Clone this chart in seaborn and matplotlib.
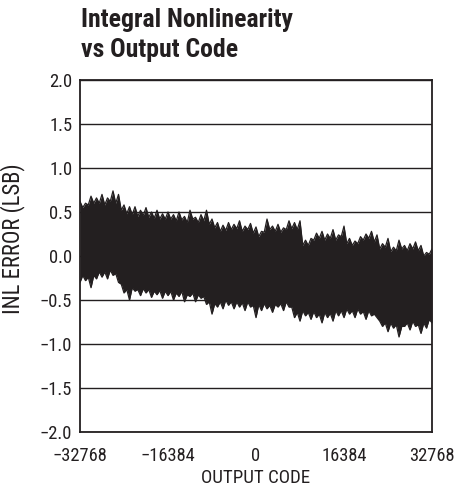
import numpy as np
import pandas as pd
import matplotlib
matplotlib.use("Agg")
import matplotlib.pyplot as plt
from matplotlib import font_manager
import seaborn as sns

# Output code axis, sampled every 1024 codes
codes = list(range(-32768, 32769, 1024))
# Midpoints between those samples
mid_codes = list(range(-32768 + 512, 32768, 1024))

# Peak (upper) and trough (lower) INL error at each 1024-code sample, in LSB
inl_upper = [0.62, 0.60, 0.68, 0.66, 0.70, 0.66, 0.74, 0.70, 0.58, 0.56,
             0.56, 0.52, 0.55, 0.50, 0.52, 0.48, 0.50, 0.47, 0.50, 0.45,
             0.52, 0.44, 0.47, 0.52, 0.42, 0.38, 0.35, 0.38, 0.36, 0.40,
             0.34, 0.37, 0.33, 0.28, 0.42, 0.34, 0.36, 0.32, 0.40, 0.38,
             0.40, 0.18, 0.20, 0.26, 0.28, 0.25, 0.30, 0.24, 0.34, 0.20,
             0.17, 0.22, 0.25, 0.28, 0.24, 0.14, 0.20, 0.10, 0.18, 0.12,
             0.14, 0.16, 0.12, 0.04, 0.08]
inl_lower = [-0.30, -0.28, -0.36, -0.26, -0.24, -0.26, -0.22, -0.30, -0.42, -0.50,
             -0.40, -0.45, -0.42, -0.47, -0.44, -0.48, -0.45, -0.50, -0.46, -0.52,
             -0.46, -0.52, -0.48, -0.55, -0.66, -0.58, -0.60, -0.56, -0.60, -0.58,
             -0.62, -0.58, -0.70, -0.62, -0.60, -0.64, -0.58, -0.62, -0.58, -0.70,
             -0.74, -0.68, -0.72, -0.70, -0.76, -0.70, -0.74, -0.68, -0.70, -0.66,
             -0.70, -0.66, -0.72, -0.68, -0.70, -0.80, -0.86, -0.82, -0.92, -0.80,
             -0.84, -0.80, -0.88, -0.82, -0.76]

# Edge of the dense trace between the spikes, at the midpoints
inl_upper_mid = [0.55, 0.58, 0.60, 0.60, 0.58, 0.62, 0.60, 0.52,
                 0.48, 0.47, 0.45, 0.46, 0.44, 0.43, 0.42, 0.42,
                 0.42, 0.40, 0.41, 0.38, 0.42, 0.38, 0.40, 0.36,
                 0.32, 0.28, 0.29, 0.30, 0.31, 0.28, 0.30, 0.26,
                 0.22, 0.27, 0.30, 0.28, 0.27, 0.30, 0.31, 0.30,
                 0.12, 0.12, 0.18, 0.20, 0.18, 0.20, 0.18, 0.22,
                 0.14, 0.12, 0.14, 0.18, 0.20, 0.16, 0.08, 0.10,
                 0.05, 0.06, 0.08, 0.06, 0.08, 0.06, 0.00, 0.02]
inl_lower_mid = [-0.22, -0.24, -0.22, -0.18, -0.18, -0.16, -0.20, -0.32,
                 -0.38, -0.36, -0.38, -0.37, -0.38, -0.40, -0.39, -0.40,
                 -0.40, -0.42, -0.40, -0.44, -0.42, -0.44, -0.46, -0.52,
                 -0.54, -0.52, -0.50, -0.52, -0.52, -0.53, -0.52, -0.56,
                 -0.55, -0.54, -0.56, -0.55, -0.54, -0.52, -0.58, -0.64,
                 -0.62, -0.64, -0.63, -0.66, -0.64, -0.65, -0.62, -0.62,
                 -0.60, -0.62, -0.60, -0.63, -0.62, -0.66, -0.74, -0.76,
                 -0.76, -0.78, -0.80, -0.76, -0.74, -0.78, -0.76, -0.72]

x_ticks = [-32768, -16384, 0, 16384, 32768]
x_tick_labels = ["\u221232768", "\u221216384", "0", "16384", "32768"]
y_ticks = [-2.0, -1.5, -1.0, -0.5, 0.0, 0.5, 1.0, 1.5, 2.0]
y_tick_labels = [f"{v:.1f}".replace("-", "\u2212") for v in y_ticks]

title = "Integral Nonlinearity\nvs Output Code"
x_label = "OUTPUT CODE"
y_label = "INL ERROR (LSB)"

ink = "#231f20"


def pick_family():
    """Prefer a narrow sans face when one is installed."""
    names = {f.name for f in font_manager.fontManager.ttflist}
    for name in ["Liberation Sans Narrow", "Roboto Condensed", "Open Sans Condensed"]:
        if name in names:
            return name, "normal"
    path = font_manager.findfont(
        font_manager.FontProperties(family="DejaVu Sans", stretch="condensed"),
        fallback_to_default=False)
    if "Condensed" in path:
        return "DejaVu Sans", "condensed"
    return "Liberation Sans", "normal"


family, stretch = pick_family()

sns.set_style("white")
plt.rcParams["font.family"] = [family, "DejaVu Sans"]
plt.rcParams["font.stretch"] = stretch

fig = plt.figure(figsize=(4.55, 4.9), dpi=100)
ax = fig.add_axes([80 / 455, 1 - 432 / 490, 352 / 455, 352 / 490])

# Interleave spike samples with the in-between edge of the trace
n = len(codes)
trace_code, trace_hi, trace_lo = [], [], []
for i in range(n):
    trace_code.append(codes[i])
    trace_hi.append(inl_upper[i])
    trace_lo.append(inl_lower[i])
    if i < len(mid_codes):
        trace_code.append(mid_codes[i])
        trace_hi.append(inl_upper_mid[i])
        trace_lo.append(inl_lower_mid[i])

# Solid band covered by the dense INL trace
ax.fill_between(trace_code, trace_lo, trace_hi, color=ink, linewidth=0, zorder=3)

edges = pd.DataFrame({
    "code": trace_code * 2,
    "inl": trace_hi + trace_lo,
    "edge": ["upper"] * len(trace_code) + ["lower"] * len(trace_code),
})
sns.lineplot(data=edges, x="code", y="inl", hue="edge", palette=[ink, ink],
             linewidth=0.9, legend=False, ax=ax, zorder=4)

ax.set_xlim(-32768, 32768)
ax.set_ylim(-2.0, 2.0)
ax.set_xticks(x_ticks)
ax.set_xticklabels(x_tick_labels)
ax.set_yticks(y_ticks)
ax.set_yticklabels(y_tick_labels)
ax.tick_params(axis="both", length=0, labelsize=12.5, colors=ink)
ax.tick_params(axis="y", pad=5.5)
ax.tick_params(axis="x", pad=10.5)

ax.yaxis.grid(True, color=ink, linewidth=1.0)
ax.xaxis.grid(False)
ax.set_axisbelow(True)
for s in ax.spines.values():
    s.set_visible(True)
    s.set_color(ink)
    s.set_linewidth(1.3)

xl = ax.set_xlabel(x_label, fontsize=13, color=ink)
yl = ax.set_ylabel(y_label, fontsize=13, color=ink)
ax.xaxis.set_label_coords(0.5, -0.104)
ax.yaxis.set_label_coords(-0.155, 0.55)

t1 = fig.text(81 / 455, 1 - 8 / 490, title, ha="left", va="top", fontsize=19,
              fontweight="bold", color=ink, linespacing=1.3)


def fit_width(txt, target_px):
    renderer = fig.canvas.get_renderer()
    w = txt.get_window_extent(renderer).width
    txt.set_fontsize(txt.get_fontsize() * target_px / w)


fig.canvas.draw()
fit_width(t1, 212)
fit_width(xl, 108)
yl_ext = yl.get_window_extent(fig.canvas.get_renderer())
yl.set_fontsize(yl.get_fontsize() * 150 / yl_ext.height)
ref = ax.get_xticklabels()[0]
w0 = ref.get_window_extent(fig.canvas.get_renderer()).width
ax.tick_params(axis="both", labelsize=12.5 * 55 / w0)

fig.savefig("out.png", dpi=100)
